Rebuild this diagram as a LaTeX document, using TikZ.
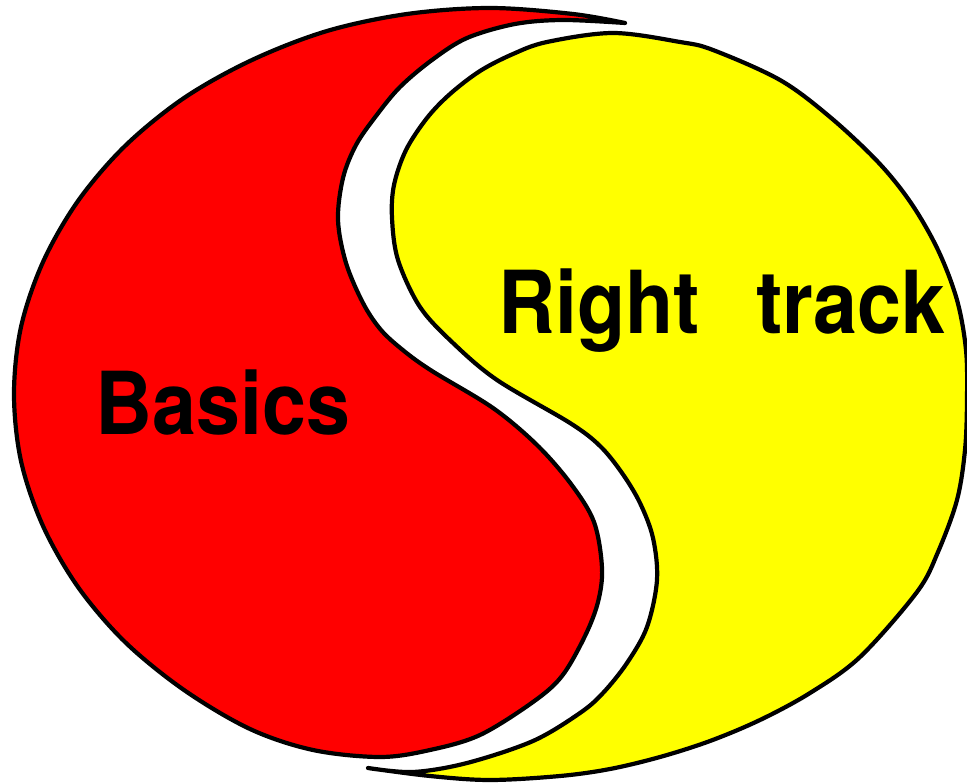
\documentclass[tikz,border=0pt]{standalone}
\usepackage{fontspec}
\usepackage{graphicx}
\newfontfamily\hv{TeX Gyre Heros}
\definecolor{myred}{RGB}{255,0,0}
\definecolor{myyellow}{RGB}{255,255,0}
\tikzset{
  blob/.style={draw=black, line width=4.2pt, line join=round, line cap=round},
  lbl/.style={anchor=base, inner sep=0pt, font=\hv\bfseries\fontsize{79}{82}\selectfont}
}
\begin{document}
\begin{tikzpicture}[x=1pt,y=-1pt]
\useasboundingbox (0,0) rectangle (967,783);
% red (left) shape
\fill[myred] plot[smooth, tension=0.55] coordinates {(625,23) (573,14) (490,8) (407,14) (327,31) (252,60) (184,98) (125,146)
(78,201) (43,262) (21,327) (14,394) (21,461) (43,526) (78,587) (125,642) (184,690)
(250,729) (313,750) (380,757) (430,750) (480,735) (533,702) (562,676) (585,636)
(598,602) (602,568) (594,522) (571,484) (537,445) (493,408) (432,371) (404,351)
(381,330) (363,303) (346,263) (338,220) (343,178) (356,145) (376,116) (400,87)
(432,60) (467,38) (515,24) (563,20) (625,23)} -- cycle;
\draw[blob] plot[smooth, tension=0.55] coordinates {(625,23) (573,14) (490,8) (407,14) (327,31) (252,60) (184,98) (125,146)
(78,201) (43,262) (21,327) (14,394) (21,461) (43,526) (78,587) (125,642) (184,690)
(250,729) (313,750) (380,757) (430,750) (480,735) (533,702) (562,676) (585,636)
(598,602) (602,568) (594,522) (571,484) (537,445) (493,408) (432,371) (404,351)
(381,330) (363,303) (346,263) (338,220) (343,178) (356,145) (376,116) (400,87)
(432,60) (467,38) (515,24) (563,20) (625,23)};
% yellow (right) shape
\fill[myyellow] plot[smooth, tension=0.55] coordinates {(368,768) (430,776) (490,780) (560,776) (610,769) (660,757) (710,741)
(760,720) (810,693) (860,657) (917,592) (938,552) (957,500) (965,450) (967,400)
(966,350) (957,300) (938,250) (911,203) (878,162) (830,117) (780,80) (713,50)
(680,42) (613,33) (547,42) (513,54) (480,71) (450,94) (427,118) (406,150) (394,185)
(392,218) (398,260) (420,307) (453,343) (497,380) (570,423) (600,446) (622,473)
(640,503) (653,538) (657,580) (647,627) (627,663) (603,693) (580,713) (533,741)
(467,763) (413,772) (368,768)} -- cycle;
\draw[blob] plot[smooth, tension=0.55] coordinates {(368,768) (430,776) (490,780) (560,776) (610,769) (660,757) (710,741)
(760,720) (810,693) (860,657) (917,592) (938,552) (957,500) (965,450) (967,400)
(966,350) (957,300) (938,250) (911,203) (878,162) (830,117) (780,80) (713,50)
(680,42) (613,33) (547,42) (513,54) (480,71) (450,94) (427,118) (406,150) (394,185)
(392,218) (398,260) (420,307) (453,343) (497,380) (570,423) (600,446) (622,473)
(640,503) (653,538) (657,580) (647,627) (627,663) (603,693) (580,713) (533,741)
(467,763) (413,772) (368,768)};
% labels
\node[lbl] (basics) at (223,435) {\scalebox{1}[1.1]{Basics}};
\node[lbl] (right) at (722,334) {\scalebox{1}[1.1]{Right\hspace{56pt}track}};
\end{tikzpicture}
\end{document}
